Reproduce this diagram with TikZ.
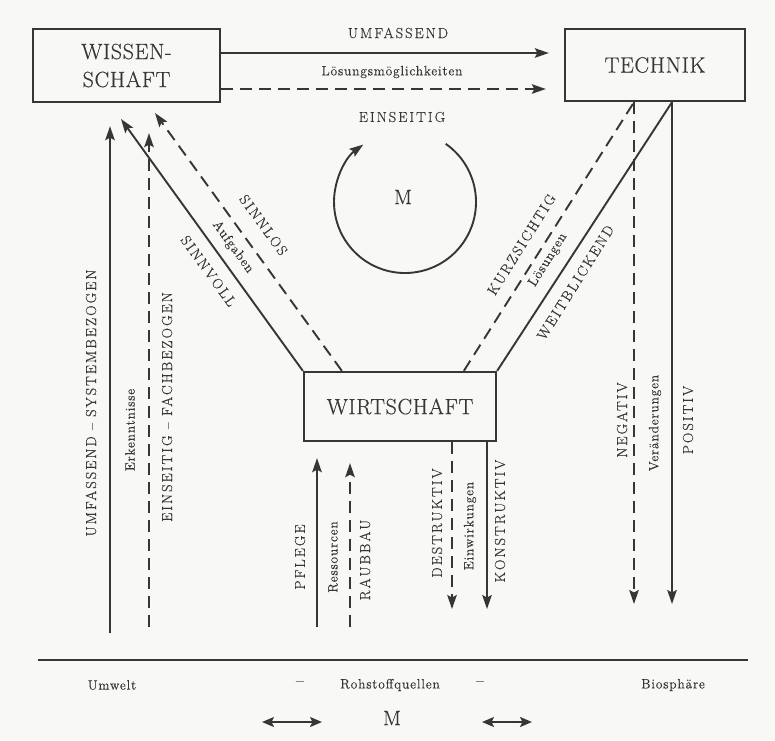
\documentclass[tikz,border=0pt]{standalone}
\usepackage{fontspec}
\setmainfont{Latin Modern Roman}
\usetikzlibrary{arrows.meta,calc}
\definecolor{ink}{HTML}{363636}
\definecolor{paper}{HTML}{F8F8F6}
\newcommand\myboxfont{\fontsize{22}{28}\selectfont\addfontfeature{LetterSpace=3,FakeBold=0.4}}
\newcommand\mycapfont{\fontsize{14.5}{16}\selectfont\addfontfeature{LetterSpace=14,FakeBold=0.4}}
\newcommand\mysmfont{\fontsize{13.5}{15}\selectfont\addfontfeature{LetterSpace=6,FakeBold=0.3}}
\newcommand\mymfont{\fontsize{21}{24}\selectfont\addfontfeature{FakeBold=0.4}}
\begin{document}
\begin{tikzpicture}[x=1pt,y=-1pt,
  box/.style={draw=ink, line width=2.3pt, inner sep=0pt, text=ink, align=center, font=\myboxfont},
  capl/.style={text=ink, font=\mycapfont, inner sep=0pt},
  sml/.style={text=ink, font=\mysmfont, inner sep=0pt},
  sol/.style={draw=ink, line width=1.9pt},
  dsh/.style={sol, dash pattern=on 12pt off 7pt},
  tip/.style={-{Stealth[length=14pt,width=9.5pt,inset=2.5pt]}},
  dbl/.style={{Stealth[length=12pt,width=10pt,inset=2.5pt]}-{Stealth[length=12pt,width=10pt,inset=2.5pt]}},
]
\fill[paper] (0,0) rectangle (775,740);
\useasboundingbox (0,0) rectangle (775,740);

% boxes
\node[box, minimum width=187pt, minimum height=73pt] (wis) at (126.5,65.5) {WISSEN-\\SCHAFT};
\node[box, minimum width=180pt, minimum height=72pt] (tech) at (655,65) {TECHNIK};
\node[box, minimum width=192pt, minimum height=69pt] (wirt) at (400,406.5) {WIRTSCHAFT};

% top connectors
\draw[sol,tip,shorten >=15pt] (wis.east |- 0,53) -- (tech.west |- 0,53);
\draw[dsh,tip,shorten >=18pt] (wis.east |- 0,89) -- (tech.west |- 0,89);
\node[capl] (lumf) at (398,33) {UMFASSEND};
\node[sml] (lloes) at (392,72) {Lösungsmöglichkeiten};
\node[capl] (lein) at (402,117) {EINSEITIG};

% cycle M
\coordinate (mc) at (405,202);
\node[font=\mymfont, text=ink] (m) at (403,197) {M};
\draw[sol,tip] ([shift={(55:71pt)}]mc) arc[start angle=55,end angle=-234,radius=71pt];

% left verticals
\coordinate (lsb) at (110,633);
\coordinate (ldb) at (149,627);
\draw[sol,tip,shorten >=23pt] (lsb) -- (lsb |- wis.south);
\draw[dsh,tip,shorten >=30pt] (ldb) -- (ldb |- wis.south);
\node[capl, rotate=90] (lsys) at (91,403) {UMFASSEND – SYSTEMBEZOGEN};
\node[sml, rotate=90] (lerk) at (130,430) {Erkenntnisse};
\node[capl, rotate=90] (lfach) at (167,407) {EINSEITIG – FACHBEZOGEN};

% left diagonals
\coordinate (tA) at (121,119);
\coordinate (tB) at (155,113);
\draw[sol,tip] (wirt.north west) -- (tA);
\draw[dsh,tip] ($(wirt.north west)+(39,0)$) -- (tB);
\node[capl, rotate=-54] (lsl) at (263.5,225) {SINNLOS};
\node[sml, rotate=-54] (lauf) at (233,247) {Aufgaben};
\node[capl, rotate=-54] (lsv) at (208.5,271) {SINNVOLL};

% right diagonals
\draw[dsh] ($(wirt.north west)+(161,0)$) -- (tech.south -| 634,0);
\draw[sol] (wirt.north east) -- (tech.south -| 672,0);
\node[capl, rotate=58] (lkurz) at (521.5,244.5) {KURZSICHTIG};
\node[sml, rotate=58] (llsg) at (548,260) {Lösungen};
\node[capl, rotate=58] (lweit) at (575.5,282.5) {WEITBLICKEND};

% right verticals
\draw[dsh,tip] (tech.south -| 634,0) -- (634,604);
\draw[sol,tip] (tech.south -| 672,0) -- (672,604);
\node[capl, rotate=90] (lneg) at (622,420) {NEGATIV};
\node[sml, rotate=90] (lver) at (655,423) {Veränderungen};
\node[capl, rotate=90] (lpos) at (688,420) {POSITIV};

% below Wirtschaft
\draw[dsh,tip] (wirt.south -| 452,0) -- (452,609);
\draw[sol,tip] (wirt.south -| 487,0) -- (487,609);
\node[capl, rotate=90] (ldes) at (437,523) {DESTRUKTIV};
\node[sml, rotate=90] (lein2) at (470,526) {Einwirkungen};
\node[capl, rotate=90] (lkon) at (500,521) {KONSTRUKTIV};

\coordinate (pb) at (317,627);
\coordinate (rb) at (350,627);
\draw[sol,tip,shorten >=16pt] (pb) -- (pb |- wirt.south);
\draw[dsh,tip,shorten >=21pt] (rb) -- (rb |- wirt.south);
\node[capl, rotate=90] (lpf) at (300,557) {PFLEGE};
\node[sml, rotate=90] (lres) at (333,557) {Ressourcen};
\node[capl, rotate=90] (lrau) at (365,560) {RAUBBAU};

% ground line
\coordinate (g1) at (38,660);
\coordinate (g2) at (748,660);
\draw[ink, line width=2.6pt] (g1) -- (g2);
\node[sml] (lumw) at (112,685) {Umwelt};
\node[sml, font=\mysmfont\fontsize{17}{18}\selectfont] (ld1) at (300,684) {–};
\node[sml] (lroh) at (390,685) {Rohstoffquellen};
\node[sml, font=\mysmfont\fontsize{17}{18}\selectfont] (ld2) at (480,684) {–};
\node[sml] (lbio) at (673,685) {Biosphäre};
\node[font=\mymfont, text=ink] (m2) at (392,718) {M};
\coordinate (a1) at (262,722);
\coordinate (a2) at (322,722);
\coordinate (b1) at (482,722);
\coordinate (b2) at (532,722);
\draw[sol,dbl] (a1) -- (a2);
\draw[sol,dbl] (b1) -- (b2);
\end{tikzpicture}
\end{document}
